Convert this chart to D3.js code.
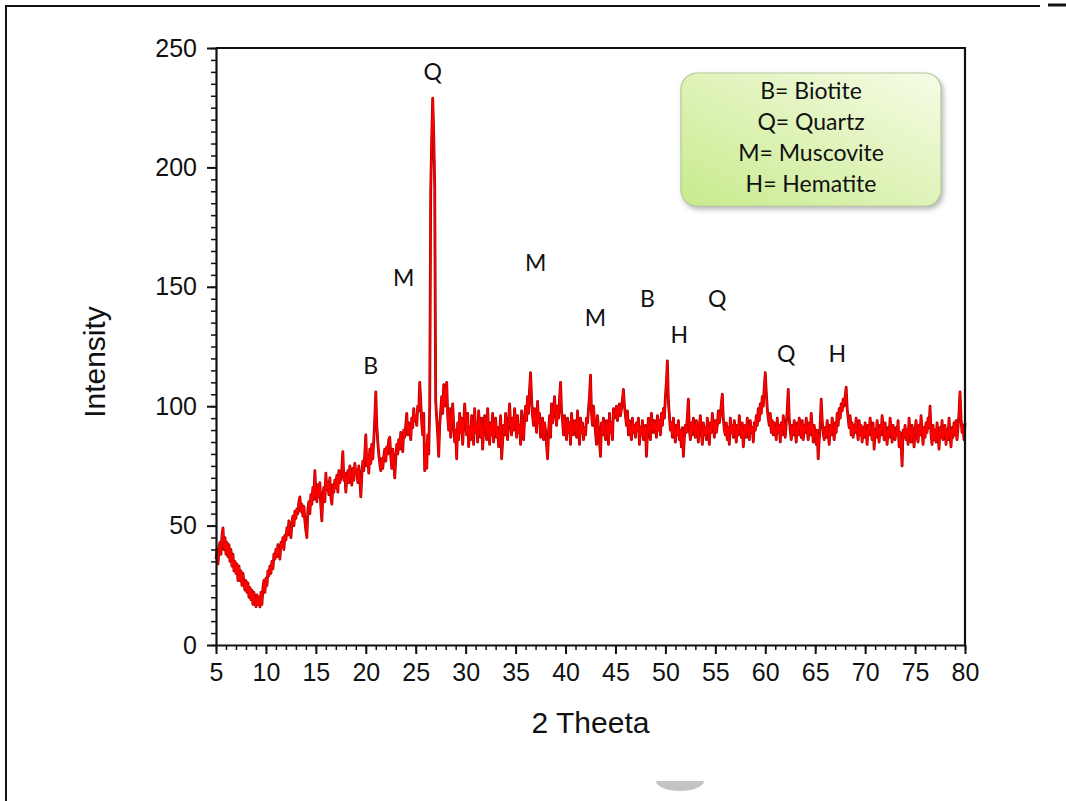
<!doctype html>
<html lang="en">
<head>
<meta charset="utf-8">
<title>XRD pattern</title>
<script src="https://d3js.org/d3.v7.min.js"></script>
<style>
  body { margin: 0; background: #fff; }
  .axis_standard text {
    font-family: "Liberation Sans", Arial, sans-serif;
    font-size: 25px;
    fill: #111;
  }
  .axis_standard path, .axis_standard line { stroke: #111; }
  .peak_label, .legend_text {
    font-family: Lato, "Open Sans", sans-serif;
    font-size: 23px;
    fill: #111;
  }
</style>
</head>
<body>
<svg id="main" width="1066" height="801" xmlns="http://www.w3.org/2000/svg"></svg>
<script>
// 2 theta sampling: starts at 5 deg, one reading every 0.1 deg up to 80 deg
const thetaStart = 5;
const thetaStep = 0.1;

// intensity, one row per degree (10 readings each)
const intensity = [
  36,40,34,41,43,38,46,49,40,45,      // 5
  38,43,37,42,35,40,33,38,31,35,      // 6
  30,34,27,33,27,31,25,30,26,23,      // 7
  27,22,26,20,24,19,23,17,22,18,      // 8
  16,21,17,20,16,22,17,24,27,22,      // 9
  28,25,31,29,33,30,35,32,38,36,      // 10
  40,37,42,39,36,43,41,45,40,46,      // 11
  44,49,46,52,48,45,51,54,50,56,      // 12
  53,57,55,60,62,56,59,54,58,52,      // 13
  48,45,57,60,55,63,59,66,61,73,      // 14
  64,60,67,62,68,58,52,63,66,60,      // 15
  72,65,68,63,70,62,59,67,64,69,      // 16
  66,71,64,73,68,70,74,81,69,72,      // 17
  64,70,73,68,75,71,67,74,69,76,      // 18
  72,73,68,75,70,62,71,77,73,80,      // 19
  88,75,79,72,82,76,84,78,86,95,      // 20
  106,92,85,80,76,73,78,74,79,82,     // 21
  77,83,80,86,87,79,74,82,76,70,      // 22
  78,84,80,86,82,89,85,81,90,87,      // 23
  92,97,88,93,90,86,95,91,99,94,      // 24
  96,92,100,98,110,102,93,88,97,73,   // 25
  84,74,88,80,100,190,212,229,214,192,// 26
  102,95,88,79,92,98,104,97,109,100,  // 27
  106,110,96,90,99,87,94,101,92,85,   // 28
  90,78,93,86,97,89,95,84,92,101,     // 29
  94,88,97,83,91,86,96,90,84,99,      // 30
  89,93,85,98,91,87,95,82,90,96,      // 31
  92,86,99,90,84,93,88,97,85,91,      // 32
  95,87,91,83,89,96,78,85,92,88,      // 33
  97,90,86,94,101,92,88,95,90,99,     // 34
  93,87,96,89,92,84,98,91,86,95,      // 35
  100,94,104,97,107,114,103,96,92,99, // 36
  95,89,102,93,97,87,91,95,86,93,     // 37
  90,84,78,89,96,87,101,93,98,104,    // 38
  97,92,100,95,103,110,98,94,88,96,   // 39
  91,86,95,89,93,84,97,90,88,94,      // 40
  92,87,98,90,84,95,89,93,86,91,      // 41
  88,95,93,99,104,113,97,92,100,94,   // 42
  89,84,96,91,85,79,93,88,95,90,      // 43
  86,94,91,84,97,89,93,86,99,95,      // 44
  97,100,94,98,101,96,99,103,107,100, // 45
  96,92,98,88,94,90,86,95,89,92,      // 46
  87,93,90,95,84,91,88,94,86,90,      // 47
  92,79,88,95,90,86,97,92,89,94,      // 48
  91,87,96,90,94,88,97,92,99,95,      // 49
  104,110,119,102,96,90,93,87,95,89,  // 50
  85,92,88,94,86,90,83,91,79,87,      // 51
  92,89,96,103,90,86,93,88,95,91,     // 52
  87,94,90,85,92,96,89,84,93,88,      // 53
  91,86,95,90,84,93,89,97,92,87,      // 54
  94,89,92,98,93,96,101,105,95,90,    // 55
  88,93,86,91,84,95,89,92,87,94,      // 56
  90,85,92,88,96,91,87,93,83,89,      // 57
  92,87,95,90,86,94,89,91,85,93,      // 58
  90,96,92,99,94,101,97,104,100,108,  // 59
  114,106,99,95,92,97,89,94,88,93,    // 60
  90,86,95,89,92,85,93,88,96,91,      // 61
  87,93,98,107,95,90,86,92,88,94,     // 62
  90,85,93,88,95,91,87,94,86,92,      // 63
  89,95,90,86,93,88,97,91,85,92,      // 64
  88,84,90,78,86,92,103,94,89,86,     // 65
  91,87,94,89,84,92,88,95,90,86,      // 66
  93,89,97,92,99,95,101,98,103,100,   // 67
  104,108,99,95,91,96,88,93,87,92,    // 68
  89,95,90,86,94,88,92,85,91,87,      // 69
  93,89,84,92,88,95,90,86,93,82,      // 70
  90,87,94,89,85,92,88,96,91,86,      // 71
  93,88,84,91,87,95,90,85,92,88,      // 72
  86,91,88,94,83,89,85,75,90,87,      // 73
  92,86,90,84,95,89,85,92,88,83,      // 74
  90,94,87,85,92,88,96,90,84,91,      // 75
  87,93,89,95,91,100,88,84,92,86,     // 76
  90,85,93,88,82,91,87,94,86,89,      // 77
  92,84,90,86,95,88,83,91,87,93,      // 78
  88,94,86,91,97,106,95,89,92,86,     // 79
  93                                  // 80
];

// phase letters and where they sit (2 theta, intensity)
const peakLetters = ['Q', 'M', 'M', 'B', 'M', 'B', 'Q', 'H', 'Q', 'H'];
const peakTheta   = [26.7, 23.8, 37.0, 20.5, 43.0, 48.2, 55.2, 51.4, 62.1, 67.2];
const peakLevel   = [240, 154, 160, 117, 137, 145, 145, 130, 122, 122];

const legendLines = ['B= Biotite', 'Q= Quartz', 'M= Muscovite', 'H= Hematite'];

const xTicks = [5, 10, 15, 20, 25, 30, 35, 40, 45, 50, 55, 60, 65, 70, 75, 80];
const yTicks = [0, 50, 100, 150, 200, 250];

let svg = d3.select('#main');
let x_range = [216, 965];
let y_range = [645, 48];
let x_scale = d3.scaleLinear().domain([5, 80]).range(x_range);
let y_scale = d3.scaleLinear().domain([0, 250]).range(y_range);

// page frame
svg.append('line').attr('x1', 6).attr('y1', 6).attr('x2', 6).attr('y2', 801)
  .attr('stroke', '#111').attr('stroke-width', 2);
svg.append('line').attr('x1', 5).attr('y1', 6).attr('x2', 1040).attr('y2', 6)
  .attr('stroke', '#111').attr('stroke-width', 2);
svg.append('line').attr('x1', 1048).attr('y1', 5).attr('x2', 1066).attr('y2', 5)
  .attr('stroke', '#111').attr('stroke-width', 3);
// grey blob at the bottom edge of the scan
svg.append('path').attr('d', 'M656,781 A24,10 0 0 0 704,781 Z').attr('fill', '#c4c4c4');

// the pattern
let points = intensity.map((v, i) => [thetaStart + i * thetaStep, v]);
let line = d3.line().x(d => x_scale(d[0])).y(d => y_scale(d[1]));

svg.append('path').datum(points)
  .attr('d', line).attr('fill', 'none')
  .attr('stroke', '#a00000').attr('stroke-width', 2.8).attr('stroke-linejoin', 'round');
svg.append('path').datum(points)
  .attr('d', line).attr('fill', 'none')
  .attr('stroke', '#ff0000').attr('stroke-width', 1.6).attr('stroke-linejoin', 'round');

function setupAxes() {
  // minor ticks
  svg.append('g')
    .attr('transform', 'translate(0,' + y_range[0] + ')')
    .attr('class', 'axis_standard')
    .call(d3.axisBottom(x_scale).tickValues(d3.range(5, 81, 1)).tickSize(5).tickFormat(''))
    .call(g => g.select('.domain').remove())
    .selectAll('line').attr('stroke-width', 1.5);
  svg.append('g')
    .attr('transform', 'translate(' + x_range[0] + ',0)')
    .attr('class', 'axis_standard')
    .call(d3.axisLeft(y_scale).tickValues(d3.range(0, 251, 5)).tickSize(5).tickFormat(''))
    .call(g => g.select('.domain').remove())
    .selectAll('line').attr('stroke-width', 1.5);

  // major ticks with labels
  let xa = svg.append('g')
    .attr('transform', 'translate(0,' + y_range[0] + ')')
    .attr('class', 'axis_standard')
    .call(d3.axisBottom(x_scale).tickValues(xTicks).tickSize(9).tickPadding(9).tickSizeOuter(0));
  xa.selectAll('line').attr('stroke-width', 2);
  xa.select('.domain').attr('stroke-width', 2.2);

  let ya = svg.append('g')
    .attr('transform', 'translate(' + x_range[0] + ',0)')
    .attr('class', 'axis_standard')
    .call(d3.axisLeft(y_scale).tickValues(yTicks).tickSize(9).tickPadding(10).tickSizeOuter(0));
  ya.selectAll('line').attr('stroke-width', 2);
  ya.select('.domain').attr('stroke-width', 2.2);

  // frame top and right
  svg.append('path')
    .attr('d', 'M' + x_range[0] + ',' + y_range[1] + 'H' + x_range[1] + 'V' + y_range[0])
    .attr('fill', 'none').attr('stroke', '#111').attr('stroke-width', 2.2);

  svg.append('text')
    .attr('x', (x_range[0] + x_range[1]) / 2).attr('y', 733)
    .attr('text-anchor', 'middle')
    .style('font-family', '"Liberation Sans", Arial, sans-serif')
    .style('font-size', '30px').attr('fill', '#111')
    .text('2 Theeta');

  svg.append('text')
    .attr('transform', 'translate(105,' + 362 + ') rotate(-90)')
    .attr('text-anchor', 'middle')
    .style('font-family', '"Liberation Sans", Arial, sans-serif')
    .style('font-size', '30px').attr('fill', '#111')
    .text('Intensity');
}

function setupLabels() {
  svg.selectAll('.peak_label').data(peakLetters).enter().append('text')
    .attr('class', 'peak_label')
    .attr('x', (d, i) => x_scale(peakTheta[i]))
    .attr('y', (d, i) => y_scale(peakLevel[i]))
    .attr('dy', '0.36em')
    .attr('text-anchor', 'middle')
    .text(d => d);
}

function setupLegend() {
  let defs = svg.append('defs');
  let grad = defs.append('linearGradient').attr('id', 'legendFill')
    .attr('x1', '100%').attr('y1', '0%').attr('x2', '0%').attr('y2', '100%');
  grad.append('stop').attr('offset', '0%').attr('stop-color', '#f6fce6');
  grad.append('stop').attr('offset', '100%').attr('stop-color', '#c8ea8c');
  let blur = defs.append('filter').attr('id', 'legendShadow')
    .attr('x', '-10%').attr('y', '-10%').attr('width', '130%').attr('height', '140%');
  blur.append('feDropShadow').attr('dx', 2).attr('dy', 3).attr('stdDeviation', 2.5)
    .attr('flood-color', '#888').attr('flood-opacity', 0.6);

  svg.append('rect')
    .attr('x', 681).attr('y', 73).attr('width', 260).attr('height', 133)
    .attr('rx', 16).attr('ry', 16)
    .attr('fill', 'url(#legendFill)')
    .attr('stroke', '#b5c99a').attr('stroke-width', 1.2)
    .attr('filter', 'url(#legendShadow)');

  svg.selectAll('.legend_text').data(legendLines).enter().append('text')
    .attr('class', 'legend_text')
    .attr('x', 811)
    .attr('y', (d, i) => 91 + i * 31)
    .attr('dy', '0.36em')
    .attr('text-anchor', 'middle')
    .text(d => d);
}

setupAxes();
setupLabels();
setupLegend();
</script>
</body>
</html>
